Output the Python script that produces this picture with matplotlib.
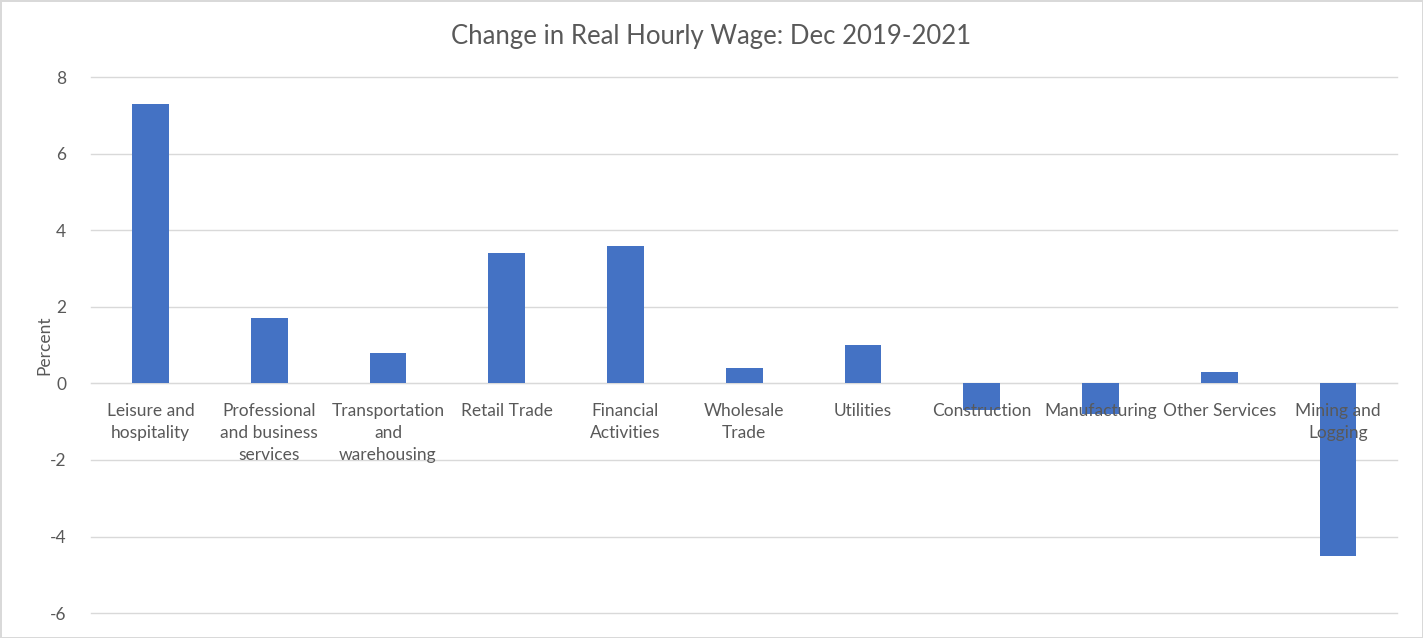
import matplotlib.pyplot as plt
import numpy as np

categories = ["Leisure and\nhospitality", "Professional\nand business\nservices",
              "Transportation\nand\nwarehousing", "Retail Trade", "Financial\nActivities",
              "Wholesale\nTrade", "Utilities", "Construction", "Manufacturing",
              "Other Services", "Mining and\nLogging"]
values = [7.3, 1.7, 0.8, 3.4, 3.6, 0.4, 1.0, -0.7, -0.8, 0.3, -4.5]
yticks = [-6, -4, -2, 0, 2, 4, 6, 8]

plt.rcParams['font.family'] = ['Lato', 'DejaVu Sans']
plt.rcParams['axes.unicode_minus'] = False
grey = '#595959'

fig = plt.figure(figsize=(14.23, 6.38), dpi=100, edgecolor='#d9d9d9', linewidth=2)
ax = fig.add_axes([0.064, 0.039, 0.918, 0.84])

x = np.arange(len(categories))
# gridlines drawn by hand so the axis labels can sit above the bars
for yv in yticks:
    ax.axhline(yv, color='#d9d9d9', linewidth=1, zorder=0, clip_on=False)
ax.bar(x, values, width=0.31, color='#4472C4', zorder=2)

ax.set_xlim(-0.5, len(categories) - 0.5)
ax.set_ylim(-6, 8)
ax.set_yticks(yticks)
ax.set_xticks(x, categories)
ax.set_axisbelow(False)
ax.xaxis.set_zorder(4)
for s in ['top', 'right', 'left']:
    ax.spines[s].set_visible(False)
ax.spines['bottom'].set_position(('data', 0))
ax.spines['bottom'].set_color('#d9d9d9')
ax.spines['bottom'].set_zorder(1)
ax.tick_params(axis='both', length=0, colors=grey, labelsize=12.5)
ax.tick_params(axis='x', pad=14)
ax.tick_params(axis='y', pad=18)
for lab in ax.get_xticklabels():
    lab.set_linespacing(1.45)
ax.set_ylabel("Percent", color=grey, fontsize=12.5, labelpad=-2)

fig.suptitle("Change in Real Hourly Wage: Dec 2019-2021", color=grey, fontsize=18.5, y=0.962)

fig.savefig("out.png", dpi=100)
